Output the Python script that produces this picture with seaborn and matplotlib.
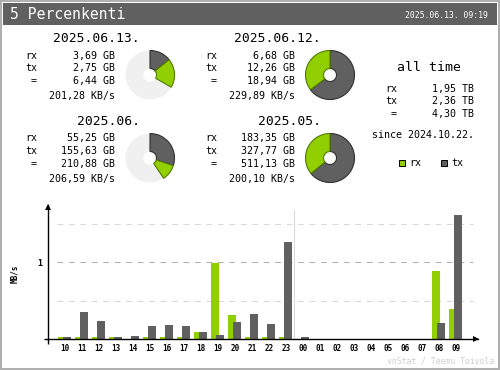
import numpy as np
import pandas as pd
import matplotlib
matplotlib.use("Agg")
import matplotlib.pyplot as plt
import seaborn as sns
from matplotlib.patches import Rectangle

# ---------------- data ----------------
title = "5 Percenkenti"
stamp = "2025.06.13. 09:19"

periods = ["2025.06.13.", "2025.06.12.", "2025.06.", "2025.05."]
rx_text = ["3,69 GB", "6,68 GB", "55,25 GB", "183,35 GB"]
tx_text = ["2,75 GB", "12,26 GB", "155,63 GB", "327,77 GB"]
total_text = ["6,44 GB", "18,94 GB", "210,88 GB", "511,13 GB"]
rate_text = ["201,28 KB/s", "229,89 KB/s", "206,59 KB/s", "200,10 KB/s"]
rx_gb = [3.69, 6.68, 55.25, 183.35]
tx_gb = [2.75, 12.26, 155.63, 327.77]
period_fill = [0.333, 1.0, 0.406, 1.0]   # share of the period covered so far

alltime_rx = "1,95 TB"
alltime_tx = "2,36 TB"
alltime_total = "4,30 TB"
since_text = "since 2024.10.22."

hours = ["10", "11", "12", "13", "14", "15", "16", "17", "18", "19", "20", "21",
         "22", "23", "00", "01", "02", "03", "04", "05", "06", "07", "08", "09"]
rx_mbs = [0.024, 0.024, 0.024, 0.024, 0.0, 0.024, 0.024, 0.024, 0.095, 0.995, 0.316, 0.024,
          0.024, 0.024, 0.0, 0.0, 0.0, 0.0, 0.0, 0.0, 0.0, 0.0, 0.887, 0.394]
tx_mbs = [0.024, 0.355, 0.237, 0.024, 0.043, 0.173, 0.186, 0.173, 0.095, 0.056, 0.225, 0.329,
          0.199, 1.264, 0.035, 0.0, 0.0, 0.0, 0.0, 0.0, 0.0, 0.0, 0.212, 1.615]

# ---------------- style ----------------
RX = "#92cf00"
TX = "#606060"
HEADER = "#606060"
EDGE = "#b0b0b0"
MONO = "DejaVu Sans Mono"

W, H = 500, 370
fig = plt.figure(figsize=(W / 100, H / 100), dpi=100)
fig.patch.set_facecolor("white")

# overlay in pixel coordinates
ax0 = fig.add_axes([0, 0, 1, 1], zorder=0)
ax0.set_xlim(0, W)
ax0.set_ylim(H, 0)
ax0.axis("off")
ax0.add_patch(Rectangle((0, 0), W, H, facecolor=EDGE, edgecolor="none"))
ax0.add_patch(Rectangle((2, 2), W - 4, H - 4, facecolor="white", edgecolor="none"))
ax0.add_patch(Rectangle((3, 3), W - 6, 22, facecolor=HEADER, edgecolor="none"))
ax0.text(10.5, 19, title, color="white", fontsize=10.6, family=MONO, va="baseline", ha="left")
ax0.text(487.5, 17.5, stamp, color="white", fontsize=5.9, family=MONO, va="baseline", ha="right")

txt = dict(family=MONO, fontsize=7.2, va="baseline", color="black")
# period blocks
blocks = [
    # (label x, value right x, title right x, title baseline, row baselines, pie center)
    (25, 115, 140, 42.3, [59.3, 71.0, 84.3, 99.0], (150, 75)),
    (205, 295, 321, 42.3, [59.3, 71.0, 84.3, 99.0], (330, 75)),
    (25, 115, 140, 125.0, [141.0, 153.7, 167.0, 182.0], (150, 158)),
    (205, 295, 321, 125.0, [141.0, 153.7, 167.0, 182.0], (330, 158)),
]
for i, (lx, vx, tx_, tb, rows, (cx, cy)) in enumerate(blocks):
    ax0.text(tx_, tb, periods[i], family=MONO, fontsize=9.4, va="baseline", ha="right")
    ax0.text(lx, rows[0], "rx", ha="left", **txt)
    ax0.text(lx, rows[1], "tx", ha="left", **txt)
    ax0.text(lx, rows[2], " =", ha="left", **txt)
    ax0.text(vx, rows[0], rx_text[i], ha="right", **txt)
    ax0.text(vx, rows[1], tx_text[i], ha="right", **txt)
    ax0.text(vx, rows[2], total_text[i], ha="right", **txt)
    ax0.text(vx, rows[3], rate_text[i], ha="right", **txt)

    # donut
    R = 24.5
    axp = fig.add_axes([(cx - 26) / W, (H - cy - 26) / H, 52 / W, 52 / H], zorder=2)
    tot = rx_gb[i] + tx_gb[i]
    rest = tot / period_fill[i] - tot
    wedges, _ = axp.pie([tx_gb[i], rx_gb[i], rest], colors=[TX, RX, "#f0f0f0"],
                        startangle=90, counterclock=False, radius=R / 26,
                        wedgeprops=dict(width=(R - 6.5) / 26, linewidth=0.8))
    wedges[0].set_edgecolor("#303030")
    wedges[1].set_edgecolor("#4f7a00")
    wedges[2].set_edgecolor("none")
    wedges[2].set_zorder(0.5)
    axp.set_xlim(-1, 1)
    axp.set_ylim(-1, 1)
    axp.set_aspect("equal")
    axp.axis("off")

# all time block
ax0.text(429, 70.7, "all time", family=MONO, fontsize=9.5, va="baseline", ha="center")
ax0.text(385, 91.7, "rx", ha="left", **txt)
ax0.text(385, 104.0, "tx", ha="left", **txt)
ax0.text(385, 117.3, " =", ha="left", **txt)
ax0.text(474, 91.7, alltime_rx, ha="right", **txt)
ax0.text(474, 104.0, alltime_tx, ha="right", **txt)
ax0.text(474, 117.3, alltime_total, ha="right", **txt)
ax0.text(372.5, 138.3, since_text, ha="left", **txt)

# legend
ax0.add_patch(Rectangle((398.5, 159.5), 6, 6, facecolor=RX, edgecolor="black", lw=0.7))
ax0.text(409, 166, "rx", ha="left", **txt)
ax0.add_patch(Rectangle((440.5, 159.5), 6, 6, facecolor=TX, edgecolor="black", lw=0.7))
ax0.text(451, 166, "tx", ha="left", **txt)

# axis decorations of the hourly chart
X0, Y0, XR, YT = 48.3, 339.3, 478, 205
ax0.plot([44, X0], [Y0, Y0], color="black", lw=1.0, solid_capstyle="butt")
ax0.plot([X0, X0], [Y0, 344], color="black", lw=1.0, solid_capstyle="butt")
ax0.plot([X0], [YT + 1.5], marker="^", ms=4.2, color="black", mew=0)
ax0.plot([XR - 2], [Y0], marker=">", ms=4.2, color="black", mew=0)
ax0.text(14.5, 274, "MB/s", rotation=90, family=MONO, fontsize=5.5, weight="bold",
         ha="center", va="center")
ax0.text(494, 364, "vnStat / Teemu Toivola", family=MONO, fontsize=5.9, color="#cfcfcf",
         ha="right", va="baseline")

# ---------------- hourly bars ----------------
df = pd.DataFrame({"hour": hours, "rx": rx_mbs, "tx": tx_mbs})
df["slot"] = np.arange(len(df))
df["rx_pos"] = df["slot"] - 0.18
df["tx_pos"] = df["slot"] + 0.12

axb = fig.add_axes([X0 / W, (H - Y0) / H, (XR - X0) / W, (Y0 - YT) / H], zorder=1)
axb.patch.set_alpha(0)
sns.barplot(data=df, x="rx_pos", y="rx", native_scale=True, width=0.47, color=RX,
            saturation=1, errorbar=None, linewidth=0, ax=axb, zorder=2)
sns.barplot(data=df, x="tx_pos", y="tx", native_scale=True, width=0.47, color=TX,
            saturation=1, errorbar=None, linewidth=0, ax=axb, zorder=3)

xl, xr = -0.98, 24.3
ymax = 1.744
axb.set_xlim(xl, xr)
axb.set_ylim(0, ymax)
gx = (23.98 - xl) / (xr - xl)
for yv, c in [(0.5, "#d8d8d8"), (1.0, "#b0b0b0"), (1.5, "#d8d8d8")]:
    axb.axhline(yv, xmin=0.02, xmax=gx, color=c, lw=0.75, dashes=(5.5, 5.5), zorder=0.5)
axb.axvline(13.5, ymin=0, ymax=1.68 / ymax, color="#d8d8d8", lw=0.75, zorder=0.5)

axb.set_xticks(df["slot"])
axb.set_xticklabels(df["hour"], family=MONO, fontsize=5.5, weight="bold")
axb.set_yticks([1])
axb.set_yticklabels(["1"], family=MONO, fontsize=6, weight="bold")
axb.tick_params(axis="x", length=0, pad=3.5)
axb.tick_params(axis="y", length=0, pad=4.5)
axb.set_xlabel("")
axb.set_ylabel("")
for s in ["top", "right"]:
    axb.spines[s].set_visible(False)
for s in ["left", "bottom"]:
    axb.spines[s].set_linewidth(1.0)
    axb.spines[s].set_color("black")
    axb.spines[s].set_zorder(4)

fig.savefig("out.png", dpi=100)
